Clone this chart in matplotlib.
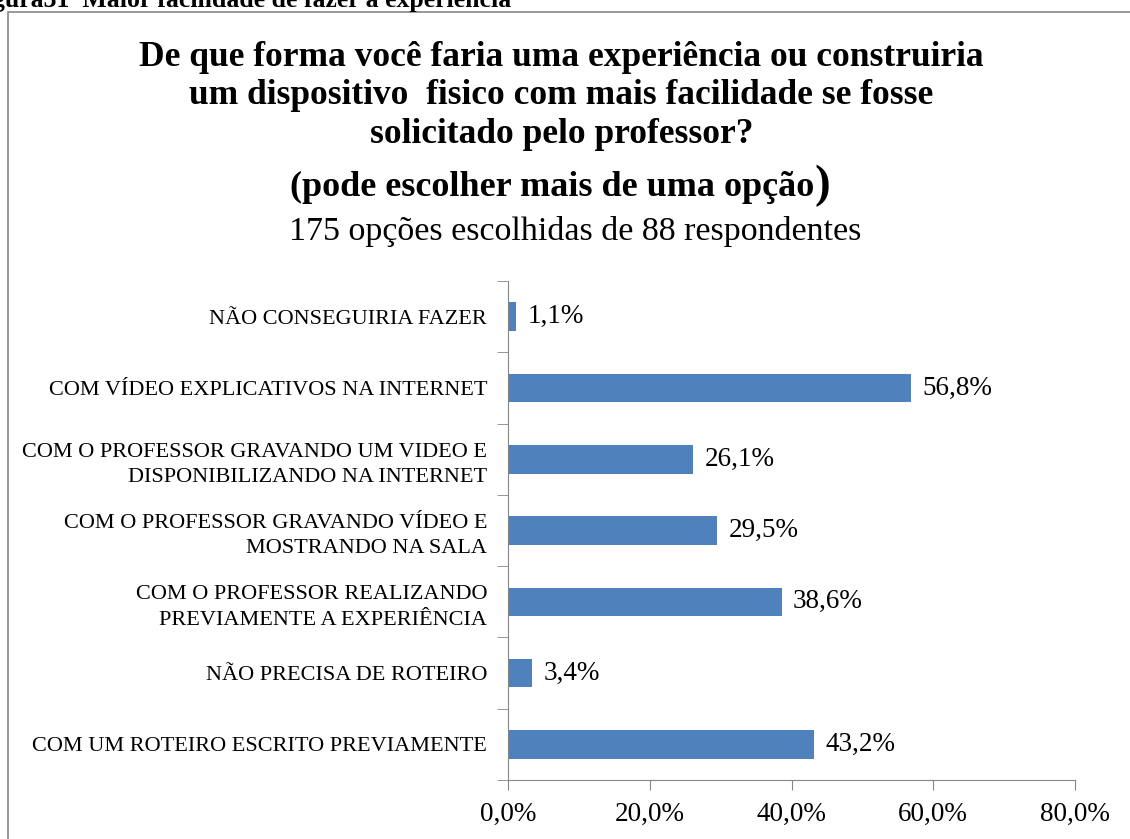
import numpy as np
import matplotlib.pyplot as plt
from matplotlib.patches import Rectangle

categorias = ["NÃO CONSEGUIRIA FAZER",
              "COM VÍDEO EXPLICATIVOS NA INTERNET",
              "COM O PROFESSOR GRAVANDO UM VIDEO E\nDISPONIBILIZANDO NA INTERNET",
              "COM O PROFESSOR GRAVANDO VÍDEO E\nMOSTRANDO NA SALA",
              "COM O PROFESSOR REALIZANDO\nPREVIAMENTE A EXPERIÊNCIA",
              "NÃO PRECISA DE ROTEIRO",
              "COM UM ROTEIRO ESCRITO PREVIAMENTE"]
valores = [1.1, 56.8, 26.1, 29.5, 38.6, 3.4, 43.2]
xticks = [0, 20, 40, 60, 80]

plt.rcParams['font.family'] = ['Liberation Serif', 'DejaVu Serif']
cinza = "#868686"

fig = plt.figure(figsize=(11.3, 8.39), dpi=100)
ax = fig.add_axes([0.4496, 0.0703, 0.5017, 0.5947])

y = np.arange(len(categorias))
ax.barh(y, valores, height=0.4, color="#4F81BD")
for yi, v in zip(y, valores):
    ax.text(v + 1.6, yi, f"{v:.1f}%".replace(".", ","), va="center", ha="left", fontsize=19.5)

ax.set_ylim(len(categorias) - 0.5, -0.5)
ax.set_xlim(0, 80)
ax.set_yticks(y)
ax.set_yticklabels(categorias, fontsize=16, ha="right", linespacing=1.45)
ax.tick_params(axis="y", which="major", length=0, pad=15)
ax.set_yticks(np.arange(-0.5, len(categorias)), minor=True)
ax.tick_params(axis="y", which="minor", length=8, direction="out", color=cinza)
ax.set_xticks(xticks)
ax.set_xticklabels([f"{t:.1f}%".replace(".", ",") for t in xticks], fontsize=19.5)
ax.tick_params(axis="x", length=7, direction="out", color=cinza, pad=9)
for s in ["top", "right"]:
    ax.spines[s].set_visible(False)
for s in ["left", "bottom"]:
    ax.spines[s].set_color(cinza)

fig.text(0.497, 0.8856, "De que forma você faria uma experiência ou construiria\n"
         "um dispositivo  fisico com mais facilidade se fosse\nsolicitado pelo professor?",
         ha="center", va="center", fontsize=25.5, fontweight="bold", linespacing=1.22)
fig.text(0.721, 0.776, "(pode escolher mais de uma opção", ha="right", va="center",
         fontsize=26, fontweight="bold")
fig.text(0.721, 0.778, ")", ha="left", va="center", fontsize=34, fontweight="bold")
fig.text(0.509, 0.7235, "175 opções escolhidas de 88 respondentes", ha="center", va="center",
         fontsize=24.5)

fig.text(0.452, 0.9917, "Figura31  Maior facilidade de fazer a experiência", ha="right",
         va="baseline", fontsize=18.5, fontweight="bold")

fig.patches.append(Rectangle((0.007, -0.1), 1.1, 1.0857, transform=fig.transFigure,
                             fill=False, edgecolor=cinza, linewidth=1.2))

fig.savefig("out.png", dpi=100)
